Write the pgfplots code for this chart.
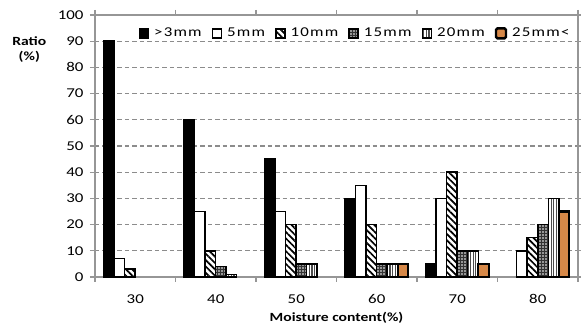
\documentclass[border=0pt]{standalone}
\usepackage{pgfplots}
\pgfplotsset{compat=1.18}
\usetikzlibrary{patterns,patterns.meta}
\usepackage{fontspec}
\setmainfont[FakeStretch=1.25]{Carlito}
\newfontfamily\legfont[FakeStretch=1.25, LetterSpace=9]{Carlito}
\definecolor{gridgray}{RGB}{140,140,140}
\definecolor{axgray}{RGB}{150,150,150}
\definecolor{orng}{RGB}{214,136,72}
\begin{document}
\begin{tikzpicture}
\begin{axis}[
  at={(0,0)}, anchor=south west,
  scale only axis, width=483pt, height=262pt,
  ybar=0pt, bar width=10.5pt,
  xmin=-0.5, xmax=5.5, ymin=0, ymax=100,
  xtick={0,...,5}, xticklabels={30,40,50,60,70,80},
  minor xtick={-0.5,0.5,...,5.5},
  ytick={0,10,...,100},
  major x tick style={draw=none},
  minor x tick style={axgray, line width=1.3pt},
  y tick style={axgray, line width=1.3pt},
  tick align=outside, major tick length=5pt, minor tick length=5pt,
  axis line style={axgray, line width=1.4pt},
  ymajorgrids, major grid style={gridgray, line width=1.3pt, dash pattern=on 4.5pt off 3pt},
  /pgf/number format/assume math mode=true,
  tick label style={font=\fontsize{13.5}{15}\selectfont},
  xticklabel style={yshift=-9pt},
  yticklabel style={xshift=-3pt},
  xlabel={\textbf{Moisture content(\%)}},
  xlabel style={font=\fontsize{12.5}{15}\selectfont, at={(rel axis cs:0.5,0)}, anchor=center, yshift=-41pt},
  clip=false,
  legend columns=6,
  legend style={draw=none, fill=none, at={(0.09,0.93)}, anchor=west,
    font=\legfont\fontsize{13.5}{15}\selectfont, inner xsep=0pt,
    /tikz/every even column/.append style={column sep=8pt},
    /tikz/every odd column/.append style={column sep=3pt}},
  legend image code/.code={\draw[#1] (0pt,-4.5pt) rectangle (9pt,4.5pt);},
  every axis plot/.append style={draw=black, line width=1.5pt},
]
\addplot[fill=black] coordinates {(0,90) (1,60) (2,45) (3,30) (4,5)};
\addlegendentry{>3mm}
\addplot[fill=white] coordinates {(0,7) (1,25) (2,25) (3,35) (4,30) (5,10)};
\addlegendentry{5mm}
\addplot[fill=white, postaction={pattern={Lines[angle=-45,distance=4.5pt,line width=1.7pt]}, pattern color=black}] coordinates {(0,3) (1,10) (2,20) (3,20) (4,40) (5,15)};
\addlegendentry{10mm}
\addplot[fill=black!80, postaction={pattern={Dots[distance=3pt,radius=0.8pt]}, pattern color=white}] coordinates {(1,4) (2,5) (3,5) (4,10) (5,20)};
\addlegendentry{15mm}
\addplot[fill=white, postaction={pattern={Lines[angle=90,distance=2.6pt,line width=1.1pt]}, pattern color=black!70}] coordinates {(1,1) (2,5) (3,5) (4,10) (5,30)};
\addlegendentry{20mm}
\addplot[fill=orng, line width=2.4pt,
  legend image code/.code={\draw[fill=orng, draw=black, line width=2.4pt, rounded corners=1.5pt] (1pt,-5pt) rectangle (11pt,5pt);}] coordinates {(3,5) (4,5) (5,25)};
\addlegendentry{25mm<}
\node[font=\bfseries\fontsize{12.5}{15}\selectfont, align=center] at (rel axis cs:-0.136,0.87) {Ratio\\(\%)};
\end{axis}
\pgfresetboundingbox
\path (-95pt,-51pt) rectangle (486pt,277pt);
\end{tikzpicture}
\end{document}
